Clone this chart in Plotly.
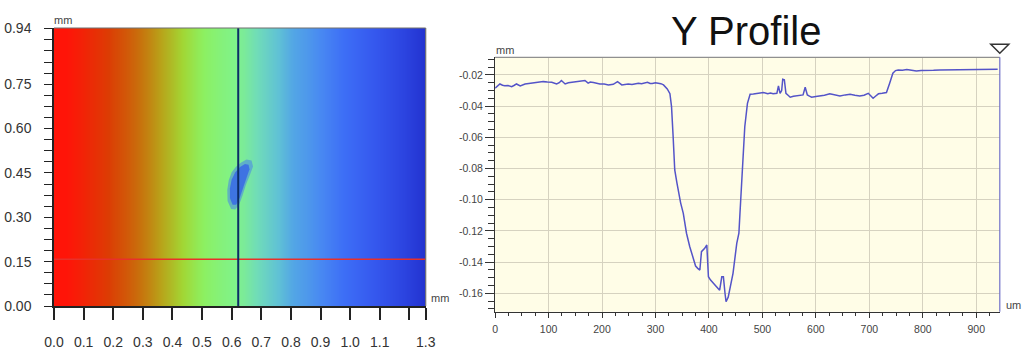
import plotly.graph_objects as go

# ---------------- Left panel: colour-coded height map ----------------
map_x_mm = [0.0, 0.04, 0.08, 0.12, 0.16, 0.20, 0.24, 0.28, 0.32, 0.36, 0.40, 0.44, 0.48,
            0.52, 0.56, 0.60, 0.64, 0.68, 0.72, 0.76, 0.80, 0.85, 0.90, 0.95, 1.00, 1.05,
            1.10, 1.15, 1.20, 1.255]
map_y_mm = [0.0, 0.94]
map_level = [1.0, 1.0, 0.98, 0.955, 0.935, 0.91, 0.89, 0.865, 0.835, 0.80, 0.77, 0.735,
             0.70, 0.67, 0.645, 0.625, 0.60, 0.565, 0.53, 0.495, 0.45, 0.41, 0.36, 0.31,
             0.26, 0.21, 0.16, 0.11, 0.06, 0.0]
palette_levels = [0.0, 0.08, 0.18, 0.28, 0.36, 0.44, 0.50, 0.56, 0.62, 0.68, 0.74, 0.80,
                  0.86, 0.92, 1.0]
palette_colors = ['#2232CF', '#2C44E0', '#3558EE', '#3D6EF6', '#4888F2', '#52A4E6',
                  '#60C2D4', '#70DCB8', '#80F28A', '#8CF062', '#A2D634', '#B8A41A',
                  '#C8700C', '#DC3C04', '#FF1408']

# pit seen on the map (mm): soft outer rim and darker core
pit_rim_x_mm = [0.598, 0.586, 0.585, 0.590, 0.600, 0.615, 0.632, 0.650, 0.667, 0.672,
                0.662, 0.648, 0.636, 0.625, 0.612]
pit_rim_y_mm = [0.328, 0.355, 0.392, 0.425, 0.452, 0.472, 0.485, 0.495, 0.492, 0.472,
                0.445, 0.410, 0.372, 0.342, 0.326]
pit_core_x_mm = [0.603, 0.594, 0.594, 0.600, 0.612, 0.628, 0.645, 0.657, 0.660, 0.650,
                 0.638, 0.627, 0.615]
pit_core_y_mm = [0.342, 0.365, 0.398, 0.428, 0.452, 0.470, 0.480, 0.478, 0.462, 0.432,
                 0.398, 0.365, 0.342]

profile_line_x_mm = 0.622   # position of the Y-profile cut
cut_line_y_mm = 0.158       # horizontal cursor
map_x_end = 1.255
map_y_end = 0.94

map_xtick_vals = [0.0, 0.1, 0.2, 0.3, 0.4, 0.5, 0.6, 0.7, 0.8, 0.9, 1.0, 1.1, 1.2, 1.255]
map_xtick_text = ['0.0', '0.1', '0.2', '0.3', '0.4', '0.5', '0.6', '0.7', '0.8', '0.9',
                  '1.0', '1.1', '', '1.3']
map_ytick_vals = [0.0, 0.15, 0.30, 0.45, 0.60, 0.75, 0.94]
map_ytick_text = ['0.00', '0.15', '0.30', '0.45', '0.60', '0.75', '0.94']

# ---------------- Right panel: Y profile ----------------
profile_x_um = [0, 5, 9, 14, 18, 24, 31, 36, 40, 47, 52, 56, 63, 69, 75, 82, 90, 98, 106,
                115, 120, 124, 131, 137, 143, 150, 159, 168, 174, 178, 184, 190, 196, 204,
                212, 221, 229, 237, 243, 249, 256, 262, 268, 274, 280, 285, 290, 294, 300,
                305, 310, 315, 322, 327, 330, 333, 336, 340, 343, 347, 352, 358, 364, 370,
                375, 379, 383, 386, 392, 396, 399, 403, 408, 415, 420, 424, 427, 430, 432,
                436, 439, 445, 452, 456, 458, 461, 464, 467, 472, 477, 483, 490, 496, 502,
                510, 515, 520, 524, 527, 530, 533, 536, 538, 541, 544, 548, 552, 558, 564,
                570, 576, 580, 584, 588, 592, 600, 608, 616, 626, 636, 645, 655, 664, 673,
                682, 690, 698, 703, 707, 712, 717, 724, 732, 738, 744, 749, 754, 762, 770,
                779, 788, 797, 807, 820, 832, 846, 860, 875, 890, 903, 915, 928, 940]
profile_z_mm = [-0.0285, -0.0270, -0.0258, -0.0266, -0.0270, -0.0268, -0.0275, -0.0266,
                -0.0258, -0.0270, -0.0262, -0.0258, -0.0255, -0.0252, -0.0249, -0.0247,
                -0.0243, -0.0246, -0.0247, -0.0258, -0.0250, -0.0236, -0.0258, -0.0250,
                -0.0247, -0.0244, -0.0236, -0.0236, -0.0253, -0.0246, -0.0249, -0.0253,
                -0.0258, -0.0258, -0.0264, -0.0260, -0.0243, -0.0264, -0.0260, -0.0258,
                -0.0262, -0.0255, -0.0253, -0.0257, -0.0253, -0.0247, -0.0255, -0.0255,
                -0.0250, -0.0253, -0.0256, -0.0264, -0.0290, -0.0320, -0.0403, -0.0596,
                -0.0809, -0.0890, -0.0959, -0.1020, -0.1087, -0.1215, -0.1300, -0.1366,
                -0.1425, -0.1440, -0.1451, -0.1333, -0.1312, -0.1290, -0.1494, -0.1515,
                -0.1536, -0.1565, -0.1580, -0.1494, -0.1494, -0.1600, -0.1654, -0.1625,
                -0.1580, -0.1472, -0.1280, -0.1215, -0.1087, -0.0900, -0.0700, -0.0532,
                -0.0382, -0.0324, -0.0322, -0.0320, -0.0316, -0.0313, -0.0320, -0.0316,
                -0.0321, -0.0317, -0.0318, -0.0271, -0.0318, -0.0300, -0.0228, -0.0231,
                -0.0318, -0.0330, -0.0343, -0.0337, -0.0335, -0.0330, -0.0328, -0.0279,
                -0.0328, -0.0336, -0.0343, -0.0338, -0.0335, -0.0330, -0.0321, -0.0330,
                -0.0335, -0.0328, -0.0324, -0.0330, -0.0335, -0.0330, -0.0318, -0.0335,
                -0.0350, -0.0335, -0.0321, -0.0318, -0.0313, -0.0253, -0.0189, -0.0172,
                -0.0168, -0.0170, -0.0166, -0.0170, -0.0175, -0.0172, -0.0173, -0.0170,
                -0.0168, -0.0167, -0.0166, -0.0165, -0.0164, -0.0164, -0.0164, -0.0165,
                -0.0164]
prof_x_range = [0, 944]
prof_y_range = [-0.1718, -0.0087]
prof_xtick_vals = [0, 100, 200, 300, 400, 500, 600, 700, 800, 900]
prof_ytick_vals = [-0.02, -0.04, -0.06, -0.08, -0.10, -0.12, -0.14, -0.16]
prof_ytick_text = ['-0.02', '-0.04', '-0.06', '-0.08', '-0.10', '-0.12', '-0.14', '-0.16']

FONT = 'Liberation Sans, Arial, sans-serif'
W, H = 1024, 352

fig = go.Figure()
colorscale = [[l, c] for l, c in zip(palette_levels, palette_colors)]
fig.add_trace(go.Heatmap(x=map_x_mm, y=map_y_mm, z=[map_level, map_level],
                         colorscale=colorscale, zmin=0, zmax=1, zsmooth='best',
                         showscale=False, hoverinfo='skip', xaxis='x', yaxis='y'))
fig.add_trace(go.Scatter(x=pit_rim_x_mm, y=pit_rim_y_mm, mode='lines', fill='toself',
                         fillcolor='rgba(72,128,236,0.55)', line=dict(width=0),
                         hoverinfo='skip', xaxis='x', yaxis='y'))
fig.add_trace(go.Scatter(x=pit_core_x_mm, y=pit_core_y_mm, mode='lines', fill='toself',
                         fillcolor='rgba(56,104,230,0.85)', line=dict(width=0),
                         hoverinfo='skip', xaxis='x', yaxis='y'))
fig.add_trace(go.Scatter(x=[0, map_x_end], y=[cut_line_y_mm, cut_line_y_mm], mode='lines',
                         line=dict(color='#E8302A', width=1.5), xaxis='x', yaxis='y'))
fig.add_trace(go.Scatter(x=[profile_line_x_mm, profile_line_x_mm], y=[0, map_y_end],
                         mode='lines', line=dict(color='#0C2D66', width=2),
                         xaxis='x', yaxis='y'))
fig.add_trace(go.Scatter(x=profile_x_um, y=profile_z_mm, mode='lines',
                         line=dict(color='#5454C8', width=1.5), xaxis='x2', yaxis='y2'))

fig.update_layout(
    width=W, height=H, margin=dict(l=0, r=0, t=0, b=0, autoexpand=False),
    paper_bgcolor='white', plot_bgcolor='#FFFDE7', showlegend=False,
    font=dict(family=FONT, color='#333'),
    xaxis=dict(domain=[54 / W, 425.7 / W], range=[0, map_x_end], tickvals=map_xtick_vals,
               ticktext=map_xtick_text, ticks='outside', ticklen=12, tickwidth=1.5,
               tickcolor='#222', showline=True, linecolor='#222', linewidth=1.5,
               showgrid=False, zeroline=False, tickfont=dict(size=14, color='#333'),
               ticklabelstandoff=10, anchor='y', automargin=False),
    yaxis=dict(domain=[46 / H, 324 / H], range=[0, map_y_end], tickvals=map_ytick_vals,
               ticktext=map_ytick_text, ticks='outside', ticklen=8, tickwidth=1.2,
               tickcolor='#222', showline=True, linecolor='#222', linewidth=1.5,
               showgrid=False, zeroline=False, tickfont=dict(size=14, color='#333'),
               ticklabelstandoff=10, anchor='x', automargin=False,
               minor=dict(tick0=0, dtick=0.0375, ticks='outside', ticklen=8,
                          tickcolor='#222', tickwidth=1.2, showgrid=False)),
    xaxis2=dict(domain=[495.1 / W, 999.8 / W], range=prof_x_range, tickvals=prof_xtick_vals,
                ticks='outside', ticklen=5, tickcolor='#333', showline=True,
                linecolor='#333', linewidth=1.2, showgrid=True, gridcolor='#D6D2C0',
                gridwidth=1, zeroline=False, tickfont=dict(size=10.5, color='#444'),
                ticklabelstandoff=3, anchor='y2', automargin=False,
                minor=dict(tick0=0, dtick=25, ticks='outside', ticklen=3,
                           tickcolor='#333', showgrid=False)),
    yaxis2=dict(domain=[40.3 / H, 294.7 / H], range=prof_y_range, tickvals=prof_ytick_vals,
                ticktext=prof_ytick_text, ticks='outside', ticklen=9, tickcolor='#333',
                showline=True, linecolor='#333', linewidth=1.2, showgrid=True,
                gridcolor='#D6D2C0', gridwidth=1, zeroline=False,
                tickfont=dict(size=10.5, color='#444'), anchor='x2', automargin=False,
                minor=dict(tick0=0, dtick=0.005, ticks='outside', ticklen=6,
                           tickcolor='#333', showgrid=False)),
)

# frame edges (top / right)
fig.add_shape(type='line', xref='x domain', yref='y domain', x0=0, x1=1, y0=1, y1=1,
              line=dict(color='#707070', width=1.2))
fig.add_shape(type='line', xref='x domain', yref='y domain', x0=1, x1=1, y0=0, y1=1,
              line=dict(color='#707070', width=1.2))
fig.add_shape(type='line', xref='x2 domain', yref='y2 domain', x0=0, x1=1, y0=1, y1=1,
              line=dict(color='#909090', width=1.2))
fig.add_shape(type='line', xref='x2 domain', yref='y2 domain', x0=1, x1=1, y0=0, y1=1,
              line=dict(color='#7070C8', width=1.2))
# triangle cursor marker above the right end of the profile frame
fig.add_shape(type='path', xref='paper', yref='paper', xsizemode='pixel', ysizemode='pixel',
              xanchor=999.8 / W, yanchor=294.7 / H,
              path='M-9,13 L9,13 L0,4 Z', line=dict(color='#333', width=1.5),
              fillcolor='white')

# unit labels and title
def label(text, px, py, size=11, color='#444'):
    fig.add_annotation(text=text, xref='paper', yref='paper', x=px / W, y=1 - py / H,
                       xanchor='center', yanchor='middle', showarrow=False,
                       font=dict(size=size, color=color))

label('mm', 63, 20)
label('mm', 440, 298)
label('mm', 505, 50)
label('um', 1013, 305)
label('Y Profile', 746, 31, size=40, color='#111')

fig.write_html('out.html')
